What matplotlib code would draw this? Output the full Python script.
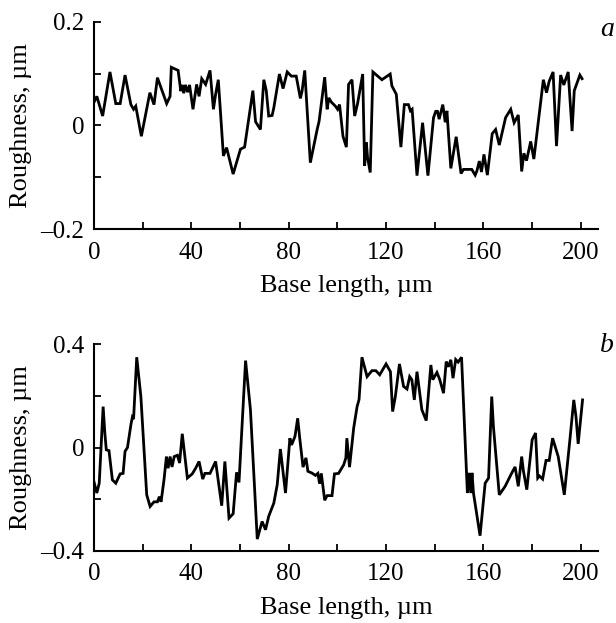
import numpy as np
import matplotlib
matplotlib.use("Agg")
import matplotlib.pyplot as plt
from matplotlib.ticker import MultipleLocator

# Profile a (base length in um, roughness in um)
x_a = [0, 1.2, 3.6, 6.6, 9, 10.8, 12.8, 15.2, 16.3, 17.2, 19.5, 23, 24.7, 26.1,
       29.9, 31.3, 31.8, 34.6, 35.7, 36.3, 36.9, 37.6, 38.5, 39.3, 40.7, 42.2,
       43.2, 44.3, 45.9, 47.7, 49.1, 50, 51.1, 53.2, 54.5, 57.2, 60.2, 61.9,
       65.3, 66.4, 68.4, 69.8, 70.8, 71.8, 73.2, 73.9, 76.2, 77.7, 79.4, 81.1,
       83.1, 84.8, 85.5, 86.6, 88.9, 91.7, 92.5, 94.8, 95.8, 96.5, 97.5, 99.2,
       100.1, 100.9, 102.3, 103.7, 104.6, 106, 107.1, 108.3, 110.4, 111.2,
       111.9, 112.4, 113.5, 114.6, 118.3, 121.7, 122.4, 124.2, 126.1, 127.5,
       129.2, 130, 130.7, 132.7, 135, 137.2, 139.5, 140.4, 141.1, 141.8, 143.3,
       144.3, 145, 146.6, 148.8, 150.8, 151.8, 155.2, 156.6, 157.3, 158.3,
       159.2, 160.2, 161.6, 163.6, 165, 166.5, 169.1, 171.2, 172.6, 174.3,
       175.7, 176.6, 177.7, 179.4, 180.7, 184.6, 185.9, 187, 188.6, 190, 191.7,
       193, 194.8, 196.4, 197.3, 198.9, 199.6, 200.5]
y_a = [0.044, 0.056, 0.018, 0.103, 0.042, 0.042, 0.097, 0.040, 0.031, 0.037,
       -0.021, 0.063, 0.040, 0.092, 0.042, 0.056, 0.112, 0.106, 0.066, 0.078,
       0.062, 0.078, 0.064, 0.078, 0.031, 0.079, 0.056, 0.090, 0.079, 0.106,
       0.031, 0.060, 0.088, -0.059, -0.043, -0.094, -0.046, -0.042, 0.067,
       0.007, -0.008, 0.088, 0.067, 0.018, 0.019, 0.034, 0.099, 0.071, 0.103,
       0.095, 0.095, 0.052, 0.066, 0.106, -0.072, -0.008, 0.008, 0.093, 0.031,
       0.053, 0.045, 0.037, 0.031, 0.040, -0.021, -0.042, 0.079, 0.088, 0.018,
       0.042, 0.099, -0.078, -0.033, -0.062, -0.091, 0.103, 0.088, 0.099,
       0.076, 0.060, -0.042, 0.040, 0.040, 0.028, 0.031, -0.097, 0.005, -0.097,
       0.015, 0.027, 0.027, 0.012, 0.040, 0.006, 0.028, -0.083, -0.022, -0.093,
       -0.085, -0.085, -0.096, -0.088, -0.069, -0.090, -0.056, -0.096, -0.016,
       -0.008, -0.038, 0.015, 0.031, 0.005, 0.020, -0.089, -0.054, -0.068,
       -0.031, -0.065, 0.088, 0.063, 0.085, 0.103, -0.040, 0.097, 0.078,
       0.103, -0.011, 0.067, 0.088, 0.097, 0.090]

# Profile b
x_b = [0, 1.2, 2.2, 3.8, 4.5, 5.1, 6.2, 7.6, 9, 10.8, 12, 12.8, 13.8, 15.2,
       15.8, 16.3, 17.6, 19.3, 21.7, 23.1, 24.7, 26.1, 26.9, 27.6, 28.8, 29.8,
       30.5, 31.3, 32.1, 33.0, 34.3, 35.2, 36.3, 38.4, 40.4, 41.8, 43.2, 44.7,
       45.6, 47.7, 50, 52.5, 53.8, 55.5, 57.2, 58.6, 59.6, 62.3, 64.3, 67.1,
       69.1, 70.5, 71.8, 73.9, 75.3, 76.6, 78.7, 80.5, 81.2, 82.6, 83.7, 84.5,
       85.9, 87.1, 87.9, 89.6, 91.0, 92.0, 92.7, 93.4, 94.8, 95.8, 97.8, 98.8,
       100.5, 102.6, 103.5, 103.9, 105, 106.7, 108.1, 108.9, 110.1, 112.2,
       114.2, 115.8, 117.4, 120, 121.8, 122.7, 123.8, 125.5, 127.2, 128.6,
       129.7, 130.6, 131.6, 132.7, 134.7, 136.5, 138.4, 139.2, 140.9, 142.0,
       143.6, 144.7, 145.6, 146.6, 147.5, 148.6, 149.6, 151, 153.4, 154.1,
       154.8, 155.3, 155.9, 158.6, 160.7, 162.1, 163.4, 164.1, 166.5, 168.9,
       171.6, 173.0, 174.3, 175.7, 176.4, 177.8, 180, 181.4, 182.3, 183.0,
       184.3, 185.7, 187.0, 188.4, 190.7, 193.2, 195.5, 197.1, 198, 198.9,
       200.7]
y_b = [-0.131, -0.176, -0.138, 0.158, 0.056, -0.009, -0.012, -0.125, -0.138,
       -0.102, -0.100, -0.015, 0.000, 0.088, 0.117, 0.110, 0.349, 0.197,
       -0.183, -0.228, -0.210, -0.210, -0.190, -0.210, -0.125, -0.035, -0.080,
       -0.035, -0.075, -0.035, -0.030, -0.060, 0.053, -0.118, -0.102, -0.080,
       -0.054, -0.122, -0.100, -0.100, -0.054, -0.225, -0.054, -0.273, -0.256,
       -0.096, -0.135, 0.336, 0.146, -0.354, -0.286, -0.318, -0.266, -0.215,
       -0.144, -0.006, -0.176, 0.036, 0.010, 0.043, 0.113, 0.040, -0.076,
       -0.040, -0.092, -0.099, -0.108, -0.100, -0.140, -0.100, -0.204, -0.186,
       -0.186, -0.102, -0.100, -0.067, -0.040, 0.036, -0.076, 0.075, 0.158,
       0.185, 0.349, 0.274, 0.297, 0.297, 0.281, 0.323, 0.293, 0.139, 0.196,
       0.323, 0.236, 0.226, 0.274, 0.262, 0.184, 0.293, 0.146, 0.104, 0.319,
       0.262, 0.290, 0.264, 0.210, 0.332, 0.312, 0.339, 0.268, 0.340, 0.330,
       0.349, -0.176, -0.098, -0.176, -0.098, -0.176, -0.341, -0.138, -0.118,
       0.197, 0.080, -0.183, -0.150, -0.099, -0.075, -0.150, -0.035, -0.090,
       -0.163, 0.030, 0.056, -0.118, -0.110, -0.122, -0.050, -0.050, 0.036,
       -0.035, -0.183, 0.030, 0.184, 0.120, 0.014, 0.184]

panels = [
    (x_a, y_a, 0.2, 0.1, 0.2, "a", [0.1524, 0.6324, 0.8182, 0.3328], 0.952),
    (x_b, y_b, 0.4, 0.2, 0.4, "b", [0.1524, 0.1156, 0.8182, 0.3322], 0.446),
]

plt.rcParams['font.family'] = ['Liberation Serif', 'DejaVu Serif']

fig = plt.figure(figsize=(6.16, 6.23), dpi=100)

TICK_FS = 18
LABEL_FS = 19

for xs, ys, lim, minor, major, tag, rect, tag_y in panels:
    ax = fig.add_axes(rect)
    ax.plot(xs, ys, color='black', lw=2.0, solid_joinstyle='miter')
    ax.set_xlim(0, 207)
    ax.set_ylim(-lim, lim)
    ax.spines['top'].set_visible(False)
    ax.spines['right'].set_visible(False)
    for s in ('left', 'bottom'):
        ax.spines[s].set_linewidth(1.5)
    ax.xaxis.set_major_locator(MultipleLocator(40))
    ax.xaxis.set_minor_locator(MultipleLocator(20))
    ax.yaxis.set_major_locator(MultipleLocator(major))
    ax.yaxis.set_minor_locator(MultipleLocator(minor))
    ax.set_xticks([0, 40, 80, 120, 160, 200])
    ax.tick_params(which='both', direction='in', length=5, width=1.3,
                   labelsize=TICK_FS)
    ax.tick_params(axis='x', pad=9)
    ax.tick_params(axis='y', pad=7)
    ax.yaxis.set_major_formatter(
        matplotlib.ticker.FuncFormatter(
            lambda v, p: '0' if abs(v) < 1e-9 else ('%g' % v).replace('-', '\u2013')))
    ax.set_xlabel('Base length, µm', fontsize=LABEL_FS, labelpad=8)
    ax.set_ylabel('Roughness, µm', fontsize=LABEL_FS, labelpad=6)
    fig.text(607 / 616, tag_y, tag, fontsize=20, style='italic',
             ha='center', va='center')

fig.savefig('out.png', dpi=100)
